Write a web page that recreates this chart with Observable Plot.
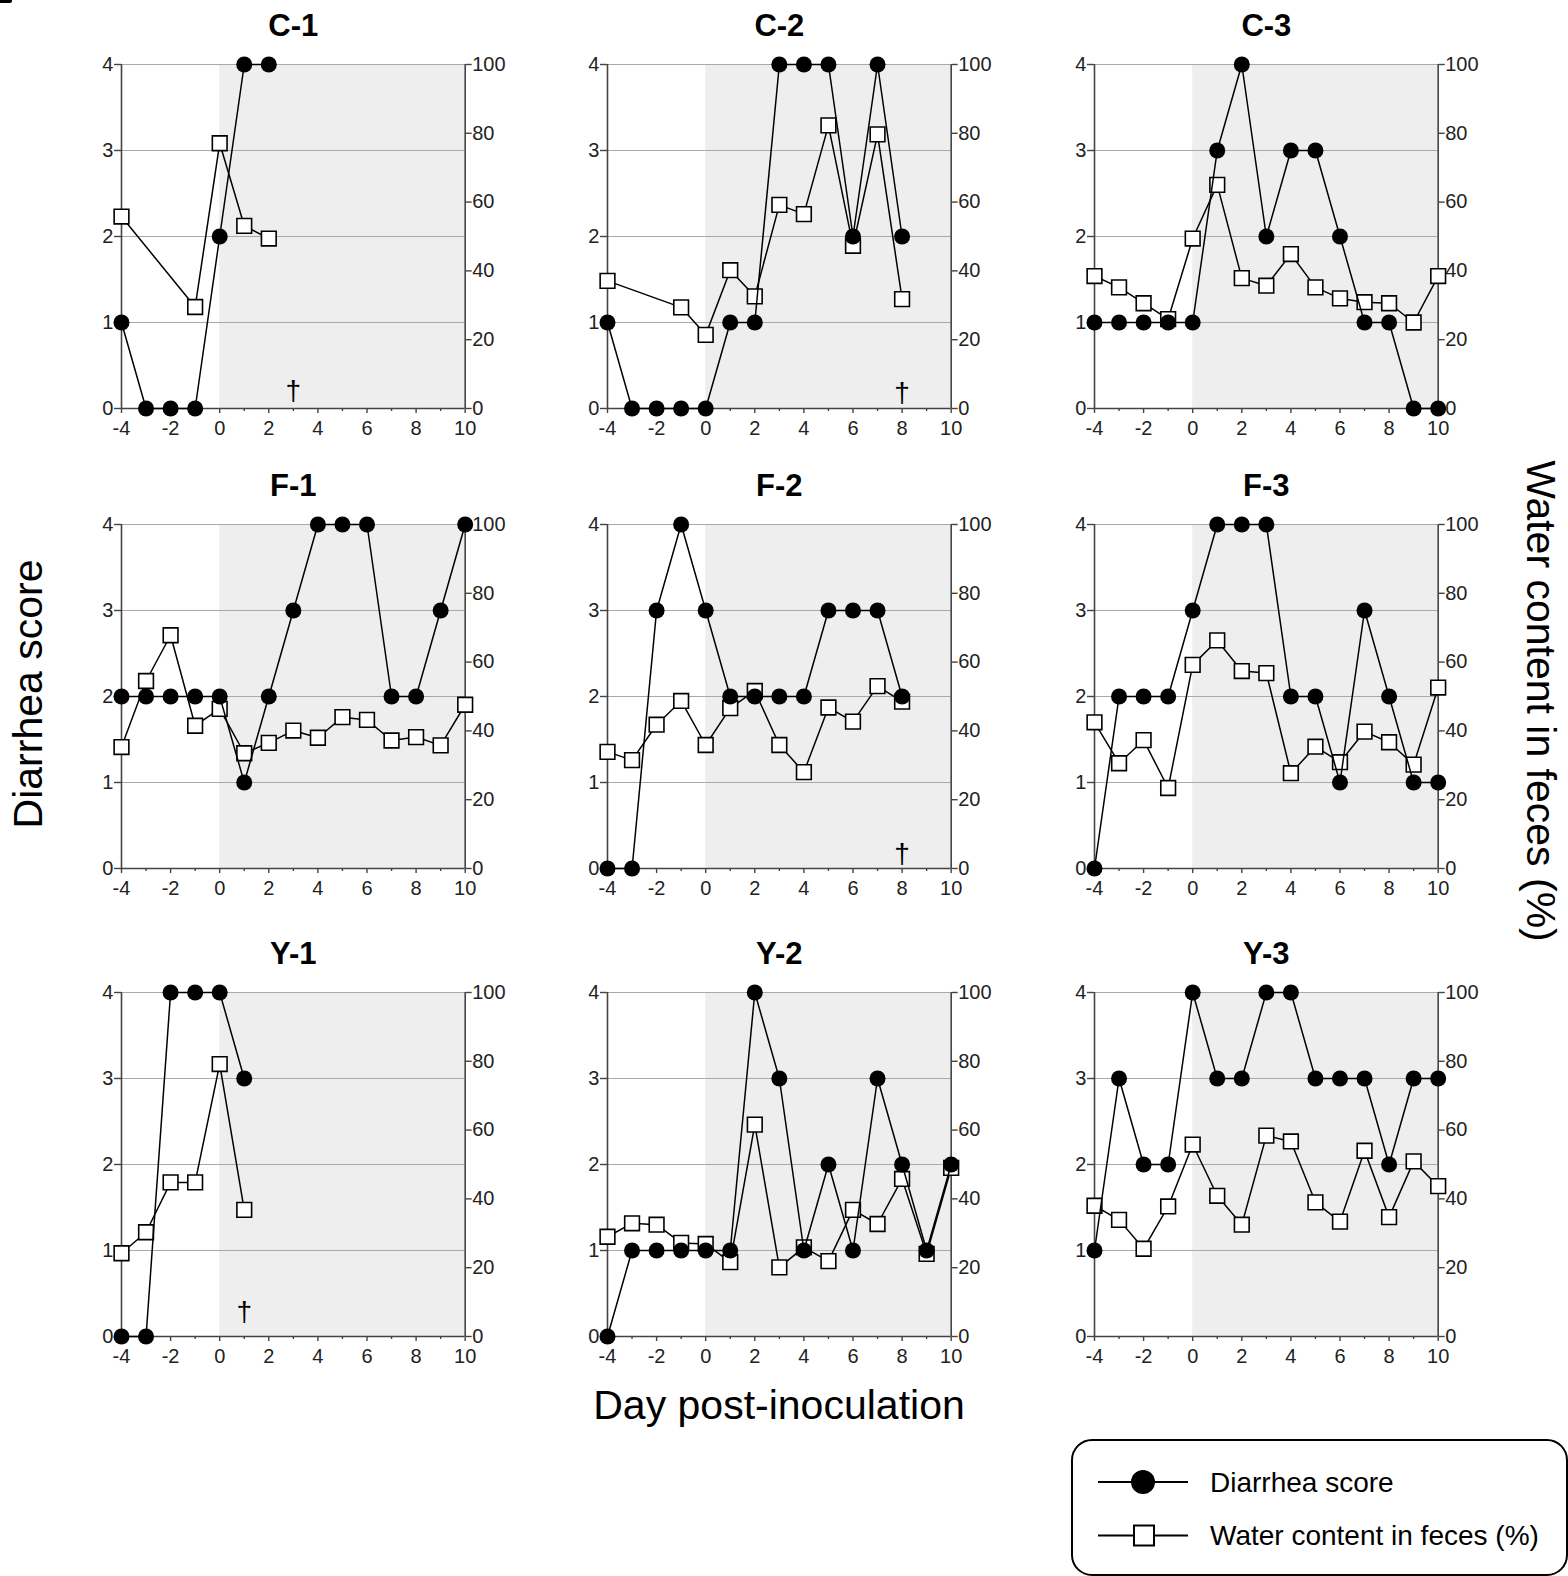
<!DOCTYPE html>
<html><head><meta charset="utf-8">
<script src="https://cdn.jsdelivr.net/npm/d3@7"></script>
<script src="https://cdn.jsdelivr.net/npm/@observablehq/plot@0.6"></script>
<style>
html,body{margin:0;padding:0;background:#fff;}
#root{position:relative;width:1568px;height:1576px;overflow:hidden;font-family:"Liberation Sans",Arial,sans-serif;}
.panel{position:absolute;}
#overlay{position:absolute;left:0;top:0;}
</style></head><body><div id="root"></div>
<script>
// ---------- data ----------
const xTicks = [-4, -2, 0, 2, 4, 6, 8, 10];
const xMinorTicks = [-3, -1, 1, 3, 5, 7, 9];
const scoreTicks = [0, 1, 2, 3, 4];
const waterTicks = [0, 20, 40, 60, 80, 100];
const dayDomain = [-4, 10];
const inoculationPeriod = [0, 10];
const fullDays = [-4, -3, -2, -1, 0, 1, 2, 3, 4, 5, 6, 7, 8, 9, 10];

const c1ScoreDays = [-4, -3, -2, -1, 0, 1, 2];
const c1Score = [1, 0, 0, 0, 2, 4, 4];
const c1WaterDays = [-4, -1, 0, 1, 2];
const c1Water = [55.8, 29.5, 77.1, 53.1, 49.4];

const c2ScoreDays = [-4, -3, -2, -1, 0, 1, 2, 3, 4, 5, 6, 7, 8];
const c2Score = [1, 0, 0, 0, 0, 1, 1, 4, 4, 4, 2, 4, 2];
const c2WaterDays = [-4, -1, 0, 1, 2, 3, 4, 5, 6, 7, 8];
const c2Water = [37.1, 29.4, 21.4, 40.2, 32.6, 59.2, 56.5, 82.3, 47.3, 79.7, 31.8];

const c3Score = [1, 1, 1, 1, 1, 3, 4, 2, 3, 3, 2, 1, 1, 0, 0];
const c3Water = [38.5, 35.2, 30.6, 26, 49.4, 65, 37.9, 35.7, 44.9, 35.2, 32, 30.9, 30.6, 25, 38.5];

const f1Score = [2, 2, 2, 2, 2, 1, 2, 3, 4, 4, 4, 2, 2, 3, 4];
const f1Water = [35.3, 54.5, 67.8, 41.5, 46.4, 33.5, 36.5, 40.1, 38, 44, 43.2, 37.2, 38.2, 35.8, 47.6];

const f2Days = [-4, -3, -2, -1, 0, 1, 2, 3, 4, 5, 6, 7, 8];
const f2Score = [0, 0, 3, 4, 3, 2, 2, 2, 2, 3, 3, 3, 2];
const f2Water = [33.9, 31.5, 41.8, 48.7, 35.9, 46.6, 51.6, 35.9, 28, 46.8, 42.7, 53, 48.5];

const f3Score = [0, 2, 2, 2, 3, 4, 4, 4, 2, 2, 1, 3, 2, 1, 1];
const f3Water = [42.5, 30.6, 37.3, 23.4, 59.2, 66.3, 57.4, 56.8, 27.7, 35.4, 30.9, 39.8, 36.7, 30.2, 52.6];

const y1Days = [-4, -3, -2, -1, 0, 1];
const y1Score = [0, 0, 4, 4, 4, 3];
const y1Water = [24.2, 30.3, 44.8, 44.8, 79.2, 36.8];

const y2Score = [0, 1, 1, 1, 1, 1, 4, 3, 1, 2, 1, 3, 2, 1, 2];
const y2Water = [29, 32.9, 32.5, 27.2, 26.9, 21.6, 61.6, 20.1, 25.9, 21.9, 36.8, 32.7, 45.8, 24, 49];

const y3Score = [1, 3, 2, 2, 4, 3, 3, 4, 4, 3, 3, 3, 2, 3, 3];
const y3Water = [38, 33.9, 25.5, 37.8, 55.8, 40.9, 32.5, 58.4, 56.7, 39, 33.4, 54, 34.7, 50.9, 43.7];

const panelNames = ["C-1", "C-2", "C-3", "F-1", "F-2", "F-3", "Y-1", "Y-2", "Y-3"];
const deathDays = [3, 8, null, null, 8, null, 1, null, null]; // † marks
const waterMax = 100, scoreMax = 4;

// ---------- layout ----------
const colX = [120.7, 606.7, 1094];
const rowY = [64, 524, 991.7];
const FW = 343.7, FH = 344;
const mL = 60, mR = 60, mT = 60, mB = 50;
const daggerLift = [17, 15, null, null, 14, null, 24, null, null];
const FONT = '"Liberation Sans", Arial, sans-serif';
const TICKFONT = 20;

const seriesList = [
  [c1ScoreDays, c1Score, c1WaterDays, c1Water],
  [c2ScoreDays, c2Score, c2WaterDays, c2Water],
  [fullDays, c3Score, fullDays, c3Water],
  [fullDays, f1Score, fullDays, f1Water],
  [f2Days, f2Score, f2Days, f2Water],
  [fullDays, f3Score, fullDays, f3Water],
  [y1Days, y1Score, y1Days, y1Water],
  [fullDays, y2Score, fullDays, y2Water],
  [fullDays, y3Score, fullDays, y3Water]
];

const root = document.getElementById("root");
const toY = v => v * scoreMax / waterMax;

panelNames.forEach((name, i) => {
  const [sd, sv, wd, wv] = seriesList[i];
  const score = sd.map((d, k) => ({day: d, v: sv[k]}));
  const water = wd.map((d, k) => ({day: d, v: wv[k]}));
  const marks = [
    Plot.rect([inoculationPeriod], {x1: d => d[0], x2: d => d[1], y1: () => scoreTicks[0], y2: () => scoreTicks[scoreTicks.length - 1], fill: "#eeeeee"}),
    Plot.ruleY(scoreTicks.slice(1), {stroke: "#a8a8a8", strokeWidth: 1}),
    Plot.ruleX(dayDomain, {stroke: "#444", strokeWidth: 1.6}),
    Plot.ruleY([scoreTicks[0]], {stroke: "#444", strokeWidth: 1.6}),
    Plot.axisY({ticks: scoreTicks, tickSize: 7, tickPadding: 1, fontSize: TICKFONT, label: null, tickFormat: d => d, stroke: "#444", strokeWidth: 1.4, fill: "#222"}),
    Plot.axisY({anchor: "right", ticks: waterTicks.map(toY), tickSize: 6, tickPadding: 1, fontSize: TICKFONT, label: null, tickFormat: d => Math.round(d * waterMax / scoreMax), stroke: "#444", strokeWidth: 1.4, fill: "#222"}),
    Plot.axisX({ticks: xTicks, tickSize: 5, tickPadding: 7, fontSize: TICKFONT, label: null, tickFormat: d => d, stroke: "#444", strokeWidth: 1.4, fill: "#222"}),
    Plot.axisX({ticks: xMinorTicks, tickSize: 3, label: null, tickFormat: () => "", stroke: "#444", strokeWidth: 1.4}),
    Plot.line(water, {x: "day", y: d => toY(d.v), stroke: "#000", strokeWidth: 1.5}),
    Plot.dot(water, {x: "day", y: d => toY(d.v), symbol: "square", r: 8.3, fill: "#fff", stroke: "#000", strokeWidth: 1.6}),
    Plot.line(score, {x: "day", y: "v", stroke: "#000", strokeWidth: 1.5}),
    Plot.dot(score, {x: "day", y: "v", r: 8, fill: "#000", stroke: "none"}),
    Plot.text([name], {frameAnchor: "top", dy: -38.5, lineAnchor: "middle", fontSize: 31, fontWeight: "bold", fill: "#000"})
  ];
  if (deathDays[i] != null) {
    marks.push(Plot.text([deathDays[i]], {x: d => d, frameAnchor: "bottom", dy: -daggerLift[i], lineAnchor: "middle", text: () => "\u2020", fontSize: 28, fill: "#000"}));
  }
  const svg = Plot.plot({
    width: FW + mL + mR, height: FH + mT + mB,
    marginLeft: mL, marginRight: mR, marginTop: mT, marginBottom: mB,
    x: {domain: dayDomain},
    y: {domain: [scoreTicks[0], scoreTicks[scoreTicks.length - 1]]},
    style: {fontFamily: FONT, fontSize: TICKFONT + "px", background: "transparent", overflow: "visible", color: "#222"},
    marks
  });
  const div = document.createElement("div");
  div.className = "panel";
  div.style.left = (colX[i % 3] - mL) + "px";
  div.style.top = (rowY[Math.floor(i / 3)] - mT) + "px";
  div.appendChild(svg);
  root.appendChild(div);
});

// ---------- axis titles & legend ----------
const ns = "http://www.w3.org/2000/svg";
const ov = document.createElementNS(ns, "svg");
ov.setAttribute("id", "overlay");
ov.setAttribute("width", 1568);
ov.setAttribute("height", 1576);
ov.style.fontFamily = FONT;
ov.innerHTML = `
  <rect x="-4" y="-4" width="16" height="7" rx="2" fill="#000"/>
  <text transform="translate(42,694) rotate(-90)" text-anchor="middle" font-size="41" fill="#000">Diarrhea score</text>
  <text transform="translate(1527,701) rotate(90)" text-anchor="middle" font-size="41" fill="#000">Water content in feces (%)</text>
  <text x="779" y="1419" text-anchor="middle" font-size="41" fill="#000">Day post-inoculation</text>
  <rect x="1072" y="1440" width="495" height="135" rx="20" ry="20" fill="#fff" stroke="#000" stroke-width="2"/>
  <line x1="1098" x2="1188" y1="1482" y2="1482" stroke="#000" stroke-width="2"/>
  <circle cx="1143" cy="1482" r="12" fill="#000"/>
  <text x="1210" y="1491.5" font-size="28" fill="#000">Diarrhea score</text>
  <line x1="1098" x2="1188" y1="1535.5" y2="1535.5" stroke="#000" stroke-width="2"/>
  <rect x="1134" y="1525.5" width="20" height="20" fill="#fff" stroke="#000" stroke-width="2"/>
  <text x="1210" y="1545" font-size="28" fill="#000">Water content in feces (%)</text>
`;
root.insertBefore(ov, root.firstChild);
</script>
</body></html>
